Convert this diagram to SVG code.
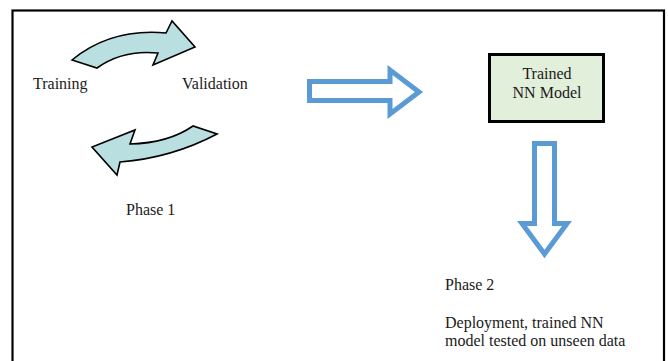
<svg xmlns="http://www.w3.org/2000/svg" width="668" height="361" viewBox="0 0 668 361">
<style>
text{font-family:"Liberation Serif","Times New Roman",serif;font-size:16px;fill:#1a1a1a}
.curve{fill:#B9DFE1;stroke:#000;stroke-width:1.6;stroke-linejoin:miter}
.block{fill:#fff;stroke:#5B9BD5;stroke-width:5;stroke-linejoin:miter}
</style>
<rect width="668" height="361" fill="#fff"/>
<rect id="frame" x="12.5" y="10.5" width="651.5" height="370" fill="none" stroke="#000" stroke-width="2.2"/>
<g id="connectors">
<path class="curve" d="M72,60 Q111,28 166,33 L172,21 L195,47 L153,65 L158,53 Q122.5,49.5 97,68 Z"/>
<path class="curve" d="M193,126 Q168.5,143 130,144 L135,130 L92,147 L117,175 L120,162 Q171.5,158 217,134 Z"/>
<path class="block" d="M309.5,81.5 L390,81.5 L390,70 L419,92 L390,114 L390,100.5 L309.5,100.5 Z"/>
<path class="block" d="M534.5,143.5 L554.5,143.5 L554.5,223.5 L567,223.5 L544.5,254 L522,223.5 L534.5,223.5 Z"/>
</g>
<g id="training"><text x="33" y="89">Training</text></g>
<g id="validation"><text x="182" y="89">Validation</text></g>
<g id="phase1"><text x="126" y="215">Phase 1</text></g>
<g id="model">
<rect x="489.5" y="54.5" width="114" height="67" fill="#E2EFDA" stroke="#000" stroke-width="3"/>
<text x="547" y="79" text-anchor="middle">Trained</text>
<text x="547" y="98" text-anchor="middle">NN Model</text>
</g>
<g id="phase2">
<text x="445" y="290">Phase 2</text>
<text x="445" y="328">Deployment, trained NN</text>
<text x="445" y="346">model tested on unseen data</text>
</g>
</svg>
